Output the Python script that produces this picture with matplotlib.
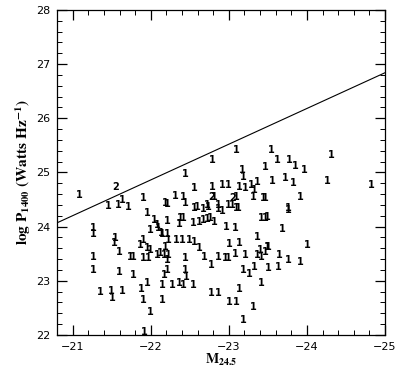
import matplotlib.pyplot as plt
from matplotlib.ticker import MultipleLocator

# absolute magnitude M_24.5 and log radio power for the sources plotted as "1"
mag_1 = [-21.08, -21.45, -21.58, -21.64, -21.71, -21.91, -22.21, -22.18, -22.31, -22.42,
         -22.44, -22.56, -22.44, -22.79, -23.10, -23.17, -23.18, -23.47, -22.79, -22.92,
         -22.99, -23.14, -23.21, -23.29, -23.36, -23.32, -22.59, -22.72, -22.82, -22.87,
         -22.99, -23.04, -23.10, -23.10, -23.31, -23.44, -23.47,
         -23.54, -23.62, -23.78, -23.85, -23.97, -24.31, -23.56, -23.72, -23.82, -24.26,
         -24.82, -23.91, -23.76,
         -21.95, -22.05, -22.08, -21.26, -21.26, -21.99, -22.10, -22.14, -21.55, -21.53,
         -21.60, -21.86, -21.91, -21.95, -21.99, -21.97, -21.26, -21.74, -21.78, -21.91,
         -22.08, -22.12, -22.17, -21.26, -21.60, -21.78,
         -22.56, -22.67, -22.74, -22.86, -22.92, -23.12, -23.42, -23.47, -22.21, -22.38,
         -22.42, -22.36, -22.54, -22.62, -22.67, -22.72, -22.76, -22.82, -22.97, -23.08,
         -22.15, -22.21, -22.22, -22.33, -22.41, -22.50, -22.56, -23.36, -23.01, -23.14,
         -22.18, -22.62, -23.40, -23.49, -22.22, -22.21, -22.44, -22.69, -22.78, -22.87,
         -22.95, -22.99, -23.08, -23.21, -23.36, -23.42, -23.47, -22.21, -22.44, -23.18,
         -23.26, -23.33,
         -23.76, -23.49, -23.69, -23.50, -24.01, -23.65, -23.76, -23.92, -23.50, -23.63,
         -22.17, -21.35, -21.50, -21.51, -21.64, -21.88, -21.96, -22.15, -21.91, -22.15,
         -22.00, -21.92,
         -22.27, -22.36, -22.42, -22.46, -22.54, -23.42, -22.78, -22.87, -23.13, -23.01,
         -23.10, -23.31, -23.18]
logp_1 = [24.58, 24.38, 24.40, 24.49, 24.36, 24.53, 24.42, 24.44, 24.57, 24.55,
          24.44, 24.71, 24.97, 25.23, 25.42, 25.05, 24.92, 25.10, 24.73, 24.77,
          24.77, 24.73, 24.71, 24.77, 24.82, 24.68, 24.36, 24.40, 24.55, 24.40,
          24.40, 24.40, 24.55, 24.34, 24.55, 24.53, 24.53,
          25.42, 25.23, 25.23, 25.12, 25.05, 25.32, 24.84, 24.90, 24.81, 24.84,
          24.77, 24.55, 24.34,
          24.25, 24.12, 24.03, 23.98, 23.86, 23.94, 23.98, 23.88, 23.79, 23.70,
          23.53, 23.66, 23.75, 23.61, 23.57, 23.42, 23.44, 23.44, 23.44, 23.42,
          23.48, 23.51, 23.48, 23.20, 23.16, 23.11,
          24.34, 24.33, 24.36, 24.33, 24.29, 24.34, 24.16, 24.16, 24.10, 24.16,
          24.16, 24.05, 24.07, 24.09, 24.12, 24.14, 24.16, 24.09, 23.99, 23.98,
          23.86, 23.86, 23.75, 23.75, 23.75, 23.75, 23.72, 23.81, 23.68, 23.70,
          23.62, 23.61, 23.57, 23.62, 23.48, 23.38, 23.42, 23.44, 23.29, 23.44,
          23.42, 23.42, 23.50, 23.48, 23.48, 23.44, 23.53, 23.20, 23.20, 23.20,
          23.13, 23.26,
          24.31, 24.18, 23.96, 23.62, 23.66, 23.48, 23.38, 23.35, 23.24, 23.26,
          23.11, 22.79, 22.81, 22.68, 22.81, 22.85, 22.96, 22.92, 22.65, 22.65,
          22.42, 22.06,
          22.92, 22.96, 22.92, 23.07, 22.92, 22.96, 22.78, 22.78, 22.85, 22.61,
          22.61, 22.52, 22.28]

# sources plotted as "2"
mag_2 = [-21.55, -22.78, -23.05]
logp_2 = [24.73, 24.55, 24.53]

# straight line across the plot
line_mag = [-20.8, -25.0]
line_logp = [24.07, 26.84]

plt.rcParams['mathtext.fontset'] = 'stix'

fig = plt.figure(figsize=(3.99, 3.72), dpi=100)
ax = fig.add_axes([0.143, 0.0995, 0.822, 0.874])

for m, p in zip(mag_1, logp_1):
    ax.text(m, p, '1', fontsize=7, fontweight='bold', family='DejaVu Sans',
            ha='center', va='center', color='black')
for m, p in zip(mag_2, logp_2):
    ax.text(m, p, '2', fontsize=7, fontweight='bold', family='DejaVu Sans',
            ha='center', va='center', color='black')

ax.plot(line_mag, line_logp, color='black', lw=0.8)

ax.set_xlim(-20.8, -25)
ax.set_ylim(22, 28)
ax.xaxis.set_major_locator(MultipleLocator(1))
ax.xaxis.set_minor_locator(MultipleLocator(0.2))
ax.yaxis.set_major_locator(MultipleLocator(1))
ax.yaxis.set_minor_locator(MultipleLocator(0.2))
ax.tick_params(which='both', direction='in', top=True, right=True, labelsize=8)
ax.tick_params(which='major', length=7, width=0.9, pad=5)
ax.tick_params(which='minor', length=3.5, width=0.7)
for s in ax.spines.values():
    s.set_linewidth(0.9)

ax.set_xlabel(r'$\mathbf{M_{24.5}}$', fontsize=10, labelpad=0)
ax.set_ylabel(r'$\mathbf{log\ P_{1400}\ (Watts\ Hz^{-1})}$', fontsize=11, labelpad=2)

plt.savefig('out.png', dpi=100)
plt.close()
